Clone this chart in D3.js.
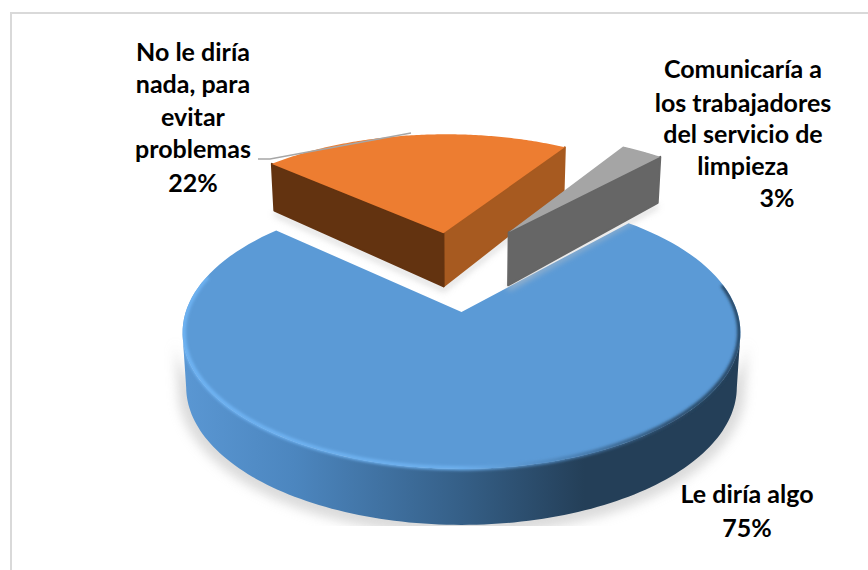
<!DOCTYPE html>
<html><head><meta charset="utf-8">
<script src="https://cdnjs.cloudflare.com/ajax/libs/d3/7.8.5/d3.min.js"></script>
<style>html,body{margin:0;padding:0;background:#fff}svg{display:block}
text{font-family:Lato,"Open Sans",sans-serif;font-weight:700;fill:#000;font-size:25px;text-anchor:middle}</style>
</head><body><script>
const categories=["Le diría algo","No le diría nada, para evitar problemas","Comunicaría a los trabajadores del servicio de limpieza"];
const values=[75,22,3];
const percentLabels=["75%","22%","3%"];
const topColors=["#5b9ad6","#ed7d31","#a5a5a5"];
const wallColors=[null,"#a75a20","#666666"];
const sideColors=[null,"#633310",null];
const width=868,height=570;
const svg=d3.select("body").append("svg").attr("width",width).attr("height",height);
const defs=svg.append("defs");
defs.append("filter").attr("id","soft").attr("x","-20%").attr("y","-20%").attr("width","140%").attr("height","140%")
  .append("feGaussianBlur").attr("stdDeviation",5);
defs.append("filter").attr("id","small").attr("x","-20%").attr("y","-20%").attr("width","140%").attr("height","140%")
  .append("feGaussianBlur").attr("stdDeviation",3);
defs.append("filter").attr("id","rim").attr("x","-5%").attr("y","-5%").attr("width","110%").attr("height","110%")
  .append("feGaussianBlur").attr("stdDeviation",1.5);
const wallG=defs.append("linearGradient").attr("id","wallGrad");
[[0,"#5a97d3"],[.2,"#4c86bf"],[.5,"#355f87"],[.72,"#243f58"],[1,"#243f58"]].forEach(s=>wallG.append("stop").attr("offset",s[0]).attr("stop-color",s[1]));
const rimG=defs.append("linearGradient").attr("id","rimGrad");
[[0,"#70b5f5"],[.5,"#6db0ee"],[.7,"#4a80b4"],[.88,"#2a4a68"],[1,"#24425e"]].forEach(s=>rimG.append("stop").attr("offset",s[0]).attr("stop-color",s[1]));

// frame (runs past the right and bottom of the picture)
svg.append("rect").attr("x",11).attr("y",13).attr("width",900).attr("height",600).attr("fill","#fff").attr("stroke","#d9d9d9").attr("stroke-width",2);

// perspective of the pie's plane
const cx=461.5,cy=312,k=275.8,q=133.4,p=0.15;
const rad=d=>d*Math.PI/180;
function proj(X,Y,z){
  const w=1-p*Y;
  const sx=cx+k*X/w, sy=cy+q*Y/w;
  if(!z) return [sx,sy];
  const t=Y+0.65;
  const d=53+t*(t>0?1.8:9.3);
  return [cx+(sx-cx)*0.987,sy+d];
}
const pie=d3.pie().sort(null).startAngle(rad(42.3)).endAngle(rad(402.3));
const arcs=pie(values);
// layout of each exploded slice: plane offset and radius
const offsets=[{dx:0,dy:0,r:1},{dx:-0.072,dy:-0.647,r:1.018},{dx:0.188,dy:-0.656,r:1.018}];
const line=d3.line();
function pt(a,r,o,z){return proj(o.dx+r*Math.sin(a),o.dy-r*Math.cos(a),z);}
function arcPts(a0,a1,r,o,z){return d3.range(0,121).map(i=>pt(a0+(a1-a0)*i/120,r,o,z));}
function topPath(a,o,r){return line([pt(0,0,o,false),...arcPts(a.startAngle,a.endAngle,r,o,false)])+"Z";}
function radialWall(an,o){return line([pt(0,0,o,false),pt(an,o.r,o,false),pt(an,o.r,o,true),pt(0,0,o,true)])+"Z";}

// blue slice
const blue=arcs[0],o0=offsets[0];
const frontA0=rad(99), frontA1=rad(261);
const wallPts=[...arcPts(frontA0,frontA1,1,o0,false),...arcPts(frontA1,frontA0,1,o0,true)];
defs.append("clipPath").attr("id","shadowClip").append("rect").attr("x",0).attr("y",0).attr("width",width).attr("height",526);
defs.append("clipPath").attr("id","blueClip").selectAll("path").data([line(wallPts)+"Z",topPath(blue,o0,1)]).join("path").attr("d",d=>d);
svg.append("g").attr("clip-path","url(#shadowClip)")
  .append("path").attr("d",line(wallPts)+"Z").attr("fill","#bdbdbd").attr("opacity",.55)
  .attr("filter","url(#soft)").attr("transform",`translate(${cx},330) scale(1.03,1.05) translate(${-cx},-330)`);
svg.append("path").attr("d",line(wallPts)+"Z").attr("fill","url(#wallGrad)");
svg.append("path").attr("d",topPath(blue,o0,1)).attr("fill",topColors[0]);
svg.append("g").attr("clip-path","url(#blueClip)")
  .append("path").attr("d",line(arcPts(rad(78),rad(286),0.996,o0,false))).attr("fill","none")
  .attr("stroke","url(#rimGrad)").attr("stroke-width",4).attr("filter","url(#rim)");

// orange and grey slices
[1,2].forEach(i=>{
  const a=arcs[i],o=offsets[i];
  svg.append("path").attr("d",line([pt(a.startAngle,o.r,o,true),pt(0,0,o,true),pt(a.endAngle,o.r,o,true)]))
    .attr("fill","none").attr("stroke","#c4c4c4").attr("stroke-width",5).attr("opacity",.6)
    .attr("filter","url(#small)").attr("transform","translate(0,3)");
  const g=svg.append("g").attr("stroke-linejoin","round");
  g.append("path").attr("d",radialWall(a.endAngle,o)).attr("fill",wallColors[i]).attr("stroke",wallColors[i]).attr("stroke-width",2);
  if(sideColors[i]) g.append("path").attr("d",radialWall(a.startAngle,o)).attr("fill",sideColors[i]).attr("stroke",sideColors[i]).attr("stroke-width",2);
  g.append("path").attr("d",topPath(a,o,o.r)).attr("fill",topColors[i]);
});

// leader line
svg.append("path").attr("d",line([[258,159],[270,159],[411,133]])).attr("fill","none").attr("stroke","#a6a6a6").attr("stroke-width",1.5);

// labels
function label(lines,xs,ys){lines.forEach((t,i)=>svg.append("text").attr("x",xs[i]).attr("y",ys[i]).text(t));}
label(["No le diría","nada, para","evitar","problemas",percentLabels[1]],[193,193,193,193,193],[61,93,126,158,192]);
label(["Comunicaría a","los trabajadores","del servicio de","limpieza",percentLabels[2]],[743,743,743,743,777],[78,112,143,175,207]);
label([categories[0],percentLabels[0]],[747,747],[503,537]);
</script></body></html>
